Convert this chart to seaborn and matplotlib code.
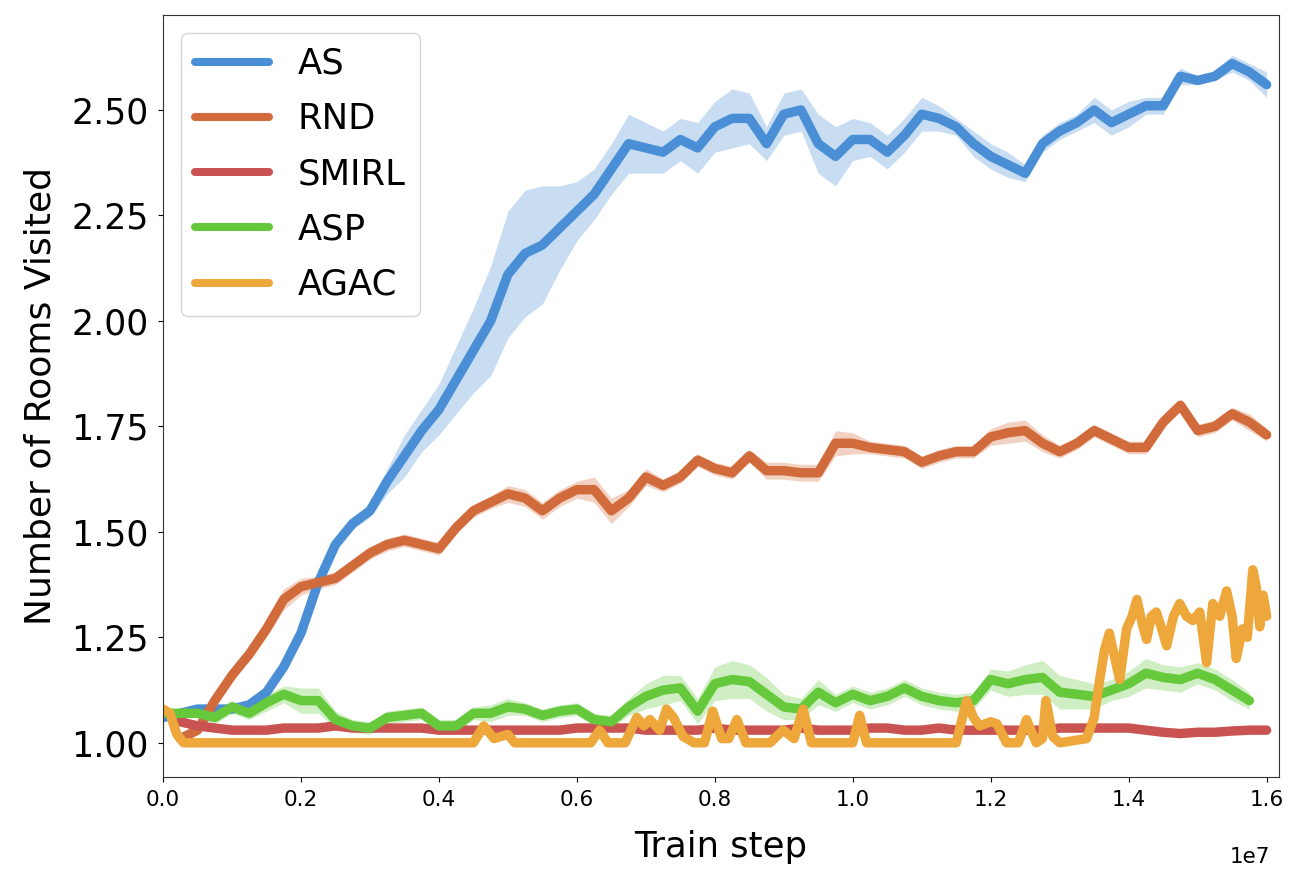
import numpy as np
import pandas as pd
import matplotlib
matplotlib.use("Agg")
import matplotlib.pyplot as plt
import seaborn as sns

# train steps in millions (common grid, every 0.25M)
steps_m = [0.0, 0.25, 0.5, 0.75, 1.0, 1.25, 1.5, 1.75, 2.0, 2.25,
           2.5, 2.75, 3.0, 3.25, 3.5, 3.75, 4.0, 4.25, 4.5, 4.75,
           5.0, 5.25, 5.5, 5.75, 6.0, 6.25, 6.5, 6.75, 7.0, 7.25,
           7.5, 7.75, 8.0, 8.25, 8.5, 8.75, 9.0, 9.25, 9.5, 9.75,
           10.0, 10.25, 10.5, 10.75, 11.0, 11.25, 11.5, 11.75, 12.0, 12.25,
           12.5, 12.75, 13.0, 13.25, 13.5, 13.75, 14.0, 14.25, 14.5, 14.75,
           15.0, 15.25, 15.5, 15.75, 16.0]

# AS (full grid)
as_rooms = [1.06, 1.07, 1.08, 1.08, 1.08, 1.09, 1.12, 1.18, 1.26, 1.38,
            1.47, 1.52, 1.55, 1.62, 1.68, 1.74, 1.79, 1.86, 1.93, 2.00,
            2.11, 2.16, 2.18, 2.22, 2.26, 2.30, 2.36, 2.42, 2.41, 2.40,
            2.43, 2.41, 2.46, 2.48, 2.48, 2.42, 2.49, 2.50, 2.42, 2.39,
            2.43, 2.43, 2.40, 2.44, 2.49, 2.48, 2.46, 2.42, 2.39, 2.37,
            2.35, 2.42, 2.45, 2.47, 2.50, 2.47, 2.49, 2.51, 2.51, 2.58,
            2.57, 2.58, 2.61, 2.59, 2.56]
as_band = [0.01, 0.01, 0.01, 0.01, 0.01, 0.01, 0.01, 0.015, 0.015, 0.015,
           0.015, 0.015, 0.015, 0.03, 0.05, 0.05, 0.06, 0.08, 0.10, 0.13,
           0.15, 0.15, 0.14, 0.10, 0.07, 0.06, 0.06, 0.07, 0.06, 0.05,
           0.05, 0.06, 0.06, 0.07, 0.06, 0.04, 0.05, 0.05, 0.07, 0.07,
           0.05, 0.04, 0.04, 0.04, 0.04, 0.03, 0.02, 0.03, 0.03, 0.03,
           0.02, 0.02, 0.02, 0.02, 0.03, 0.03, 0.03, 0.02, 0.02, 0.02,
           0.01, 0.01, 0.02, 0.02, 0.03]

# RND (grid from 0.25M)
rnd_rooms = [1.01, 1.03, 1.10, 1.16, 1.21, 1.27, 1.34, 1.37, 1.38,
             1.39, 1.42, 1.45, 1.47, 1.48, 1.47, 1.46, 1.51, 1.55, 1.57,
             1.59, 1.58, 1.55, 1.58, 1.60, 1.60, 1.55, 1.58, 1.63, 1.61,
             1.63, 1.67, 1.65, 1.64, 1.68, 1.645, 1.645, 1.64, 1.64, 1.71,
             1.71, 1.70, 1.695, 1.69, 1.665, 1.68, 1.69, 1.69, 1.725, 1.735,
             1.74, 1.71, 1.69, 1.71, 1.74, 1.72, 1.70, 1.70, 1.76, 1.80,
             1.74, 1.75, 1.78, 1.76, 1.73]
rnd_band = [0.01, 0.01, 0.01, 0.015, 0.015, 0.02, 0.025, 0.02, 0.015,
            0.015, 0.015, 0.015, 0.015, 0.015, 0.015, 0.015, 0.015, 0.015, 0.015,
            0.02, 0.02, 0.02, 0.02, 0.02, 0.03, 0.03, 0.02, 0.02, 0.015,
            0.015, 0.015, 0.015, 0.015, 0.015, 0.02, 0.02, 0.02, 0.02, 0.03,
            0.025, 0.015, 0.015, 0.015, 0.015, 0.015, 0.015, 0.015, 0.02, 0.025,
            0.025, 0.02, 0.015, 0.015, 0.015, 0.015, 0.015, 0.015, 0.015, 0.015,
            0.015, 0.015, 0.015, 0.02, 0.015]

# SMIRL (grid from 0.25M)
smirl_rooms = [1.05, 1.04, 1.035, 1.03, 1.03, 1.03, 1.035, 1.035, 1.035,
               1.04, 1.035, 1.035, 1.035, 1.035, 1.035, 1.03, 1.03, 1.03, 1.03,
               1.03, 1.03, 1.03, 1.03, 1.035, 1.035, 1.035, 1.035, 1.03, 1.03,
               1.03, 1.03, 1.035, 1.03, 1.03, 1.03, 1.03, 1.035, 1.03, 1.03,
               1.03, 1.035, 1.035, 1.03, 1.03, 1.035, 1.03, 1.03, 1.03, 1.03,
               1.03, 1.03, 1.035, 1.035, 1.035, 1.035, 1.035, 1.03, 1.025, 1.022,
               1.025, 1.025, 1.028, 1.03, 1.03]

# ASP (grid up to 15.75M)
asp_rooms = [1.07, 1.07, 1.07, 1.06, 1.085, 1.07, 1.095, 1.115, 1.10, 1.10,
             1.055, 1.04, 1.035, 1.06, 1.065, 1.07, 1.04, 1.04, 1.07, 1.07,
             1.085, 1.08, 1.065, 1.075, 1.08, 1.055, 1.05, 1.085, 1.11, 1.125,
             1.13, 1.075, 1.14, 1.15, 1.145, 1.115, 1.085, 1.08, 1.12, 1.095,
             1.115, 1.10, 1.11, 1.13, 1.11, 1.10, 1.095, 1.10, 1.15, 1.14,
             1.15, 1.155, 1.12, 1.115, 1.11, 1.125, 1.14, 1.165, 1.155, 1.15,
             1.165, 1.15, 1.125, 1.10]
asp_band = [0.01, 0.01, 0.01, 0.015, 0.015, 0.015, 0.02, 0.02, 0.03, 0.03,
            0.02, 0.015, 0.015, 0.015, 0.015, 0.015, 0.015, 0.015, 0.015, 0.02,
            0.02, 0.015, 0.015, 0.015, 0.015, 0.015, 0.015, 0.02, 0.03, 0.035,
            0.03, 0.03, 0.04, 0.045, 0.04, 0.04, 0.03, 0.025, 0.03, 0.02,
            0.02, 0.02, 0.02, 0.02, 0.02, 0.02, 0.02, 0.02, 0.025, 0.03,
            0.035, 0.04, 0.04, 0.035, 0.03, 0.025, 0.03, 0.035, 0.03, 0.03,
            0.025, 0.025, 0.025, 0.02]

# AGAC is spiky, so it gets its own breakpoints
agac_steps_m = [0.0, 0.1, 0.2, 0.3, 4.5, 4.65, 4.8, 5.0, 5.1, 6.2,
                6.33, 6.45, 6.7, 6.87, 6.97, 7.06, 7.2, 7.3, 7.4, 7.54,
                7.7, 7.85, 7.97, 8.1, 8.2, 8.32, 8.45, 8.8, 8.99, 9.15,
                9.28, 9.4, 10.0, 10.1, 10.2, 11.5, 11.65, 11.75, 11.84, 12.0,
                12.09, 12.23, 12.4, 12.52, 12.66, 12.75, 12.8, 12.9, 13.0, 13.39,
                13.5, 13.58, 13.65, 13.72, 13.8, 13.87, 13.97, 14.05, 14.12, 14.2,
                14.26, 14.33, 14.4, 14.48, 14.55, 14.65, 14.74, 14.84, 14.93, 15.03,
                15.13, 15.22, 15.32, 15.42, 15.5, 15.56, 15.65, 15.72, 15.8, 15.85,
                15.9, 15.95, 16.0]
agac_rooms = [1.08, 1.07, 1.02, 1.00, 1.00, 1.04, 1.01, 1.02, 1.00, 1.00,
              1.03, 1.00, 1.00, 1.06, 1.04, 1.055, 1.03, 1.08, 1.06, 1.015,
              1.00, 1.00, 1.075, 1.01, 1.01, 1.055, 1.00, 1.00, 1.03, 1.01,
              1.08, 1.00, 1.00, 1.065, 1.00, 1.00, 1.10, 1.06, 1.04, 1.05,
              1.045, 1.00, 1.00, 1.055, 1.00, 1.01, 1.10, 1.015, 1.00, 1.01,
              1.06, 1.15, 1.22, 1.26, 1.20, 1.15, 1.27, 1.30, 1.34, 1.28,
              1.245, 1.30, 1.31, 1.27, 1.23, 1.30, 1.33, 1.30, 1.29, 1.31,
              1.19, 1.33, 1.30, 1.36, 1.30, 1.20, 1.27, 1.25, 1.41, 1.37,
              1.275, 1.35, 1.30]

methods = ["AS", "RND", "SMIRL", "ASP", "AGAC"]
colors = {"AS": "#4a8fd6", "RND": "#d26b3b", "SMIRL": "#c95350",
          "ASP": "#66c93c", "AGAC": "#eda73a"}

# (steps, mean, band half width) per method
series = {
    "AS": (steps_m, as_rooms, as_band),
    "RND": (steps_m[1:], rnd_rooms, rnd_band),
    "SMIRL": (steps_m[1:], smirl_rooms, None),
    "ASP": (steps_m[:-1], asp_rooms, asp_band),
    "AGAC": (agac_steps_m, agac_rooms, None),
}

frames = []
for m in methods:
    s, r, _ = series[m]
    frames.append(pd.DataFrame({"step": np.array(s) * 1e6, "rooms": r, "method": m}))
df = pd.concat(frames, ignore_index=True)

sns.set_style("ticks")
plt.rcParams.update({"text.color": "black", "axes.labelcolor": "black",
                     "xtick.color": "black", "ytick.color": "black",
                     "axes.edgecolor": "#333333"})

fig, ax = plt.subplots(figsize=(12.96, 8.74), dpi=100)
fig.subplots_adjust(left=0.1258, right=0.9869, top=0.9828, bottom=0.111)

# shaded bands first
for m in methods:
    s, r, b = series[m]
    if b is None:
        continue
    x = np.array(s) * 1e6
    r = np.array(r)
    b = np.array(b)
    ax.fill_between(x, r - b, r + b, color=colors[m], alpha=0.3, linewidth=0)

sns.lineplot(data=df, x="step", y="rooms", hue="method", hue_order=methods,
             palette=colors, estimator=None, errorbar=None, linewidth=6.8, ax=ax)

ax.set_xlim(0, 1.618e7)
ax.set_ylim(0.919, 2.725)
ax.set_yticks([1.00, 1.25, 1.50, 1.75, 2.00, 2.25, 2.50])
ax.set_yticklabels(["1.00", "1.25", "1.50", "1.75", "2.00", "2.25", "2.50"])
ax.tick_params(axis="y", labelsize=25, pad=7)
ax.tick_params(axis="x", labelsize=15.5, pad=6)
ax.set_xlabel("Train step", fontsize=25.5, labelpad=14)
ax.set_ylabel("Number of Rooms Visited", fontsize=26, labelpad=10)

# scale note placed like the original, under the last tick label
ax.xaxis.get_offset_text().set_visible(False)
ax.text(0.974, -0.105, "1e7", transform=ax.transAxes, ha="center", va="center",
        fontsize=15.5)

leg = ax.legend(loc="upper left", fontsize=25.5, handlelength=2.1,
                labelspacing=0.6)
for h in leg.get_lines():
    h.set_linewidth(5.8)

fig.savefig("out.png", dpi=100)
